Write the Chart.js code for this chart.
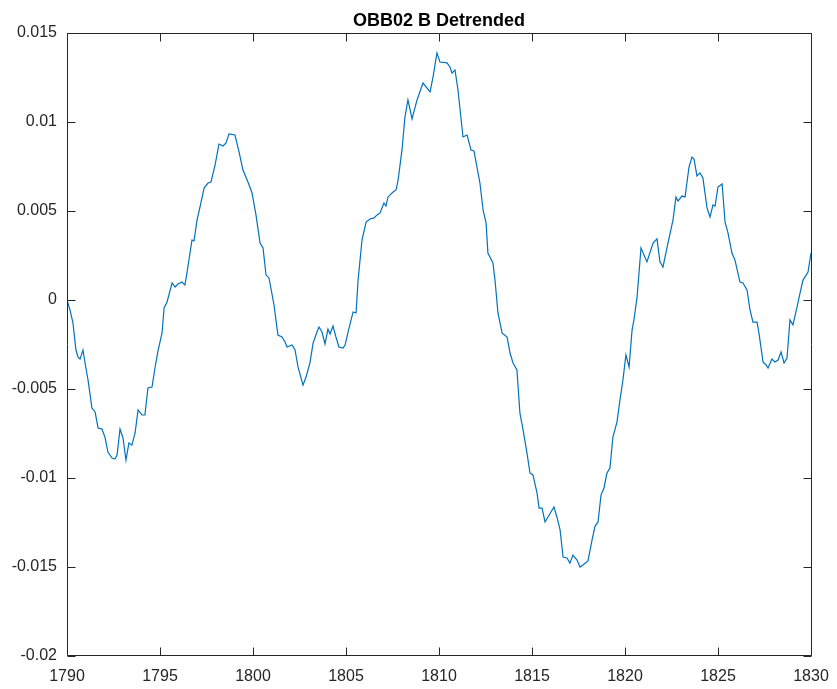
<!DOCTYPE html>
<html><head><meta charset="utf-8">
<script src="https://cdn.jsdelivr.net/npm/chart.js@4"></script>
<style>html,body{margin:0;padding:0;background:#fff}canvas{display:block}</style>
</head><body>
<canvas id="c" width="837" height="689"></canvas>
<script>
const chartTitle = 'OBB02 B Detrended';
const years = [1790.00,1790.16,1790.32,1790.48,1790.59,1790.70,1790.86,1790.97,1791.13,1791.34,1791.51,1791.67,1791.88,1792.04,1792.20,1792.42,1792.58,1792.69,1792.85,1793.01,1793.17,1793.33,1793.49,1793.66,1793.82,1794.03,1794.19,1794.35,1794.57,1794.73,1794.89,1795.11,1795.22,1795.38,1795.65,1795.81,1795.97,1796.18,1796.34,1796.45,1796.72,1796.83,1796.99,1797.20,1797.37,1797.58,1797.74,1797.96,1798.17,1798.39,1798.55,1798.71,1799.03,1799.25,1799.46,1799.73,1799.95,1800.16,1800.38,1800.54,1800.70,1800.86,1801.13,1801.34,1801.56,1801.72,1801.83,1802.10,1802.26,1802.42,1802.69,1802.85,1803.06,1803.23,1803.44,1803.55,1803.71,1803.87,1804.03,1804.14,1804.30,1804.46,1804.62,1804.84,1804.95,1805.11,1805.38,1805.54,1805.65,1805.86,1806.08,1806.29,1806.51,1806.67,1806.83,1807.04,1807.15,1807.26,1807.53,1807.69,1807.80,1808.01,1808.17,1808.33,1808.55,1808.82,1809.14,1809.52,1809.68,1809.89,1810.05,1810.43,1810.59,1810.70,1810.86,1811.02,1811.29,1811.51,1811.72,1811.88,1812.20,1812.37,1812.53,1812.63,1812.90,1813.01,1813.17,1813.39,1813.66,1813.82,1813.98,1814.19,1814.35,1814.52,1814.73,1814.89,1815.05,1815.27,1815.38,1815.54,1815.70,1815.86,1816.18,1816.34,1816.51,1816.67,1816.88,1817.04,1817.20,1817.42,1817.58,1817.74,1818.01,1818.23,1818.39,1818.55,1818.71,1818.87,1819.03,1819.19,1819.35,1819.57,1819.73,1819.89,1820.05,1820.22,1820.38,1820.48,1820.65,1820.86,1821.18,1821.51,1821.72,1821.88,1822.04,1822.31,1822.58,1822.74,1822.85,1823.06,1823.23,1823.44,1823.60,1823.71,1823.87,1824.03,1824.19,1824.41,1824.57,1824.73,1824.84,1825.00,1825.22,1825.38,1825.54,1825.75,1825.91,1826.18,1826.34,1826.56,1826.72,1826.88,1827.10,1827.20,1827.42,1827.58,1827.69,1827.90,1828.06,1828.23,1828.39,1828.55,1828.71,1828.87,1829.03,1829.25,1829.41,1829.57,1829.84,1830.00];
const values = [0.00000,-0.00056,-0.00129,-0.00281,-0.00320,-0.00332,-0.00281,-0.00354,-0.00449,-0.00607,-0.00629,-0.00719,-0.00725,-0.00770,-0.00854,-0.00888,-0.00893,-0.00871,-0.00725,-0.00775,-0.00899,-0.00803,-0.00815,-0.00747,-0.00618,-0.00646,-0.00646,-0.00494,-0.00489,-0.00382,-0.00287,-0.00185,-0.00045,-0.00011,0.00096,0.00073,0.00090,0.00101,0.00084,0.00152,0.00337,0.00332,0.00449,0.00545,0.00629,0.00657,0.00663,0.00758,0.00876,0.00865,0.00882,0.00933,0.00927,0.00832,0.00730,0.00663,0.00601,0.00478,0.00320,0.00292,0.00140,0.00124,-0.00028,-0.00197,-0.00208,-0.00236,-0.00264,-0.00253,-0.00281,-0.00376,-0.00478,-0.00433,-0.00354,-0.00242,-0.00180,-0.00152,-0.00180,-0.00247,-0.00163,-0.00191,-0.00146,-0.00208,-0.00264,-0.00270,-0.00253,-0.00180,-0.00067,-0.00073,0.00112,0.00337,0.00438,0.00455,0.00461,0.00478,0.00489,0.00545,0.00528,0.00579,0.00607,0.00618,0.00674,0.00843,0.01028,0.01124,0.01017,0.01124,0.01219,0.01169,0.01253,0.01388,0.01337,0.01332,0.01309,0.01275,0.01292,0.01180,0.00916,0.00927,0.00843,0.00837,0.00657,0.00506,0.00433,0.00264,0.00208,0.00112,-0.00073,-0.00185,-0.00208,-0.00298,-0.00354,-0.00393,-0.00635,-0.00730,-0.00860,-0.00972,-0.00983,-0.01084,-0.01169,-0.01169,-0.01247,-0.01219,-0.01163,-0.01219,-0.01292,-0.01444,-0.01449,-0.01478,-0.01433,-0.01461,-0.01500,-0.01489,-0.01466,-0.01348,-0.01270,-0.01247,-0.01096,-0.01056,-0.00972,-0.00944,-0.00770,-0.00685,-0.00562,-0.00449,-0.00309,-0.00376,-0.00169,-0.00112,0.00017,0.00292,0.00214,0.00320,0.00343,0.00214,0.00185,0.00320,0.00449,0.00579,0.00556,0.00584,0.00579,0.00747,0.00803,0.00792,0.00697,0.00714,0.00685,0.00517,0.00466,0.00534,0.00528,0.00635,0.00652,0.00438,0.00376,0.00264,0.00225,0.00101,0.00096,0.00056,-0.00056,-0.00124,-0.00124,-0.00185,-0.00348,-0.00365,-0.00382,-0.00332,-0.00348,-0.00337,-0.00292,-0.00354,-0.00326,-0.00112,-0.00140,-0.00039,0.00039,0.00112,0.00157,0.00264];
const xTicks = [1790,1795,1800,1805,1810,1815,1820,1825,1830];
const xTickLabels = ['1790','1795','1800','1805','1810','1815','1820','1825','1830'];
const yTicks = [-0.02,-0.015,-0.01,-0.005,0,0.005,0.01,0.015];
const yTickLabels = ['-0.02','-0.015','-0.01','-0.005','0','0.005','0.01','0.015'];

const FONT = '"Liberation Sans", Arial, Helvetica, sans-serif';
const AXIS = '#262626';

const boxPlugin = {
  id: 'matlabBox',
  afterDraw(chart) {
    const {ctx, chartArea: a, scales: {x, y}} = chart;
    const L = Math.round(a.left) + 0.5, R = Math.round(a.right) + 0.5;
    const T = Math.round(a.top) + 0.5, B = Math.round(a.bottom) - 0.5;
    const len = 8;
    ctx.save();
    ctx.strokeStyle = AXIS;
    ctx.lineWidth = 1;
    ctx.beginPath();
    ctx.rect(L, T, R - L, B - T);
    xTicks.forEach(v => {
      const px = Math.round(x.getPixelForValue(v)) + 0.5;
      ctx.moveTo(px, B); ctx.lineTo(px, B - len);
      ctx.moveTo(px, T); ctx.lineTo(px, T + len);
    });
    yTicks.forEach(v => {
      const py = Math.round(y.getPixelForValue(v)) + 0.5;
      ctx.moveTo(L, py); ctx.lineTo(L + len, py);
      ctx.moveTo(R, py); ctx.lineTo(R - len, py);
    });
    ctx.stroke();
    // title centred over the plot area
    ctx.fillStyle = '#000';
    ctx.font = 'bold 18px ' + FONT;
    ctx.textAlign = 'center';
    ctx.textBaseline = 'alphabetic';
    ctx.fillText(chartTitle, (a.left + a.right) / 2, a.top - 7);
    ctx.restore();
  }
};

new Chart(document.getElementById('c'), {
  type: 'line',
  data: {
    datasets: [{
      data: years.map((yr, i) => ({x: yr, y: values[i]})),
      borderColor: '#0072BD',
      borderWidth: 1.2,
      pointRadius: 0,
      tension: 0,
      fill: false
    }]
  },
  options: {
    responsive: false,
    animation: false,
    devicePixelRatio: 1,
    layout: {padding: {left: 0, right: 26, top: 33, bottom: 0}},
    plugins: {
      legend: {display: false},
      tooltip: {enabled: false},
      title: {display: false}
    },
    scales: {
      x: {
        type: 'linear', min: 1790, max: 1830,
        afterBuildTicks: s => { s.ticks = xTicks.map(v => ({value: v})); },
        afterFit: s => { s.height = 33; s.paddingLeft = 0; s.paddingRight = 0; },
        grid: {display: false, drawTicks: false},
        border: {display: false},
        ticks: {color: AXIS, font: {family: FONT, size: 16}, padding: 11, maxRotation: 0, autoSkip: false,
          callback: (v, i) => xTickLabels[i]}
      },
      y: {
        type: 'linear', min: -0.02, max: 0.015,
        afterBuildTicks: s => { s.ticks = yTicks.map(v => ({value: v})); },
        afterFit: s => { s.width = 67; s.paddingTop = 0; s.paddingBottom = 0; },
        grid: {display: false, drawTicks: false},
        border: {display: false},
        ticks: {color: AXIS, font: {family: FONT, size: 16}, padding: 10, autoSkip: false,
          callback: (v, i) => yTickLabels[i]}
      }
    }
  },
  plugins: [boxPlugin]
});
</script>
</body></html>
